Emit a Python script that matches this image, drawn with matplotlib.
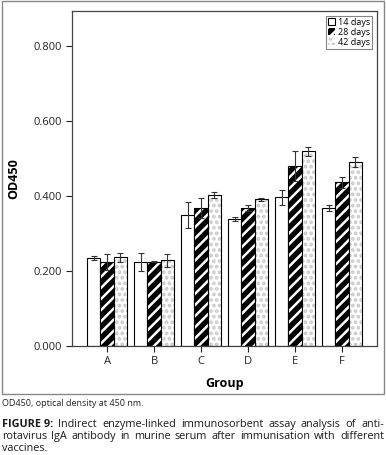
import numpy as np
import matplotlib.pyplot as plt
from matplotlib.patches import Rectangle

plt.rcParams['font.family'] = ['Open Sans', 'DejaVu Sans']
plt.rcParams['hatch.linewidth'] = 1.8

groups = ['A', 'B', 'C', 'D', 'E', 'F']
series = ['14 days', '28 days', '42 days']
d14 = [0.234, 0.225, 0.349, 0.339, 0.396, 0.369]
d28 = [0.224, 0.225, 0.367, 0.367, 0.480, 0.436]
d42 = [0.236, 0.228, 0.403, 0.391, 0.519, 0.490]
e14 = [0.005, 0.024, 0.035, 0.006, 0.020, 0.008]
e28 = [0.021, 0.002, 0.027, 0.008, 0.041, 0.014]
e42 = [0.012, 0.017, 0.008, 0.004, 0.012, 0.013]

W, H = 386, 455
fig = plt.figure(figsize=(W / 100, H / 100), dpi=100)

# outer frame
fig.patches.append(Rectangle((2 / W, 1 - 394 / H), 382 / W, 393 / H,
                             transform=fig.transFigure, fill=False,
                             edgecolor='#888888', lw=1.0))

ax = fig.add_axes([72 / W, 1 - 346 / H, 305 / W, 335 / H])
x = np.arange(len(groups))
bw = 0.28

ax.bar(x - bw, d14, bw, color='white', edgecolor='black', lw=0.8, label=series[0])
ax.bar(x, d28, bw, color='black', edgecolor='white', hatch='///', lw=0, label=series[1])
ax.bar(x, d28, bw, fill=False, edgecolor='black', lw=0.8)
ax.bar(x + bw, d42, bw, color='white', edgecolor='#c8c8c8', hatch='...', lw=0, label=series[2])
ax.bar(x + bw, d42, bw, fill=False, edgecolor='black', lw=0.8)

for off, v, e in [(-bw, d14, e14), (0, d28, e28), (bw, d42, e42)]:
    ax.errorbar(x + off, v, yerr=e, fmt='none', ecolor='#333333', elinewidth=0.8,
                capsize=2, capthick=0.8)

ax.set_xlim(-0.745, 5.745)
ax.set_ylim(0, 0.893)
ax.set_yticks([0, 0.2, 0.4, 0.6, 0.8])
ax.set_yticklabels(['0.000', '0.200', '0.400', '0.600', '0.800'])
ax.set_xticks(x)
ax.set_xticklabels(groups)
ax.tick_params(labelsize=8, length=4, width=0.8, colors='#222222')
for s in ax.spines.values():
    s.set_linewidth(0.9)
    s.set_color('#444444')
ax.set_ylabel('OD450', fontsize=9, fontweight='bold', labelpad=9)
ax.set_xlabel('Group', fontsize=9, fontweight='bold', labelpad=7)

h, l = ax.get_legend_handles_labels()
leg = ax.legend(h, l, loc='upper right', fontsize=6.5, frameon=True, fancybox=False,
                edgecolor='#666666', handlelength=0.8, handleheight=0.8,
                handletextpad=0.3, borderpad=0.25, labelspacing=0.1,
                borderaxespad=0.5)
leg.get_frame().set_linewidth(0.8)

fig.text(2 / W, 1 - 406 / H, 'OD450, optical density at 450 nm.', fontsize=6.5,
         ha='left', va='baseline', color='#222222')

caption = [
    ['FIGURE 9:', 'Indirect', 'enzyme-linked', 'immunosorbent', 'assay', 'analysis', 'of', 'anti-'],
    ['rotavirus', 'IgA', 'antibody', 'in', 'murine', 'serum', 'after', 'immunisation', 'with', 'different'],
    ['vaccines.'],
]
baselines = [427, 439, 451]
fig.canvas.draw()
r = fig.canvas.get_renderer()
x0, x1 = 2, 384
for i, words in enumerate(caption):
    arts = []
    for w in words:
        bold = w.startswith('FIGURE')
        t = fig.text(0, 1 - baselines[i] / H, w, fontsize=7.8,
                     fontweight='bold' if bold else 'normal',
                     ha='left', va='baseline', color='#1a1a1a')
        arts.append(t)
    widths = [t.get_window_extent(r).width for t in arts]
    if i < len(caption) - 1 and len(arts) > 1:
        gap = (x1 - x0 - sum(widths)) / (len(arts) - 1)
    else:
        gap = 3
    pos = x0
    for t, wd in zip(arts, widths):
        t.set_x(pos / W)
        pos += wd + gap

fig.savefig('out.png', dpi=100)
